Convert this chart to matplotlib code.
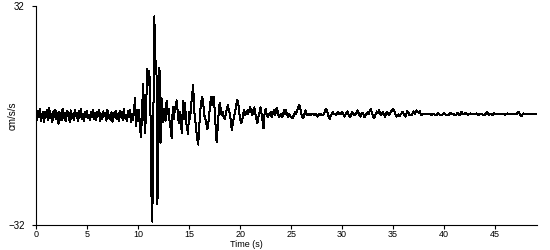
import matplotlib
matplotlib.use("Agg")
import matplotlib.pyplot as plt
import numpy as np

# acceleration samples (cm/s/s), one every 0.1 s
dt = 0.1

pre_event = [
    0.5, -1.2, 1.4, -0.6, 1.8, -1.5, 0.3, 1.1, -1.8, 0.9,
    -0.4, 1.6, -1.3, 2.1, -0.8, 0.4, -2.0, 1.2, -0.5, 1.7,
    -1.1, 0.6, -2.4, 1.0, 0.2, -1.4, 1.9, -0.7, 0.8, -1.6,
    1.3, -0.3, 0.9, -1.9, 1.5, -0.9, 0.4, -1.2, 1.6, -0.2,
    0.7, -1.5, 1.2, -0.6, 1.8, -1.1, 0.5, -1.7, 1.0, -0.4,
    1.4, -0.8, 0.3, -1.3, 1.1, -0.5, 1.7, -1.0, 0.6, -1.4,
    0.9, -0.2, 1.5, -1.6, 0.4, -0.9, 1.2, -0.3, 0.8, -1.5,
    1.6, -0.7, 0.2, -1.2, 1.0, -1.8, 0.7, -0.4, 1.3, -1.0,
    0.5, -1.6, 1.4, -0.5, 1.1, -1.3, 1.9, -0.8, 0.3, -1.7,
    1.2, -0.6, 1.5, -1.9, 0.4, -1.2, 1.0, 5.0, -3.2, 1.5,
]

strong_motion = [
    -1.5, 1.5, -4.0, -6.4, 2.0, 9.3, 0.5, -5.0, 3.0, 13.5,
    9.0, 13.0, 6.0, -22.0, -31.0, 0.0, 29.0, 12.0, 16.0, -26.0,
    -4.0, 14.0, -8.0, 5.0, -2.0, 2.0, 0.5, -1.5, 4.4, 0.5,
    2.0, -2.0, -4.0, -6.7, 2.5, -1.0, 1.5, 3.0, 4.4, 0.5,
    -2.3, 1.0, -3.0, -5.0, 4.4, -1.0, 3.8, -1.5, -3.5, -5.5,
    1.0, -1.0, 3.0, 6.0, 9.0, 1.5, -1.0, -4.0, -7.0, -8.5,
    -3.0, 1.5, 4.0, 5.4, 3.0, 0.0, -1.0, -2.5, -3.9, -2.0,
    1.0, 4.0, 5.4, 3.0, 5.4, 2.0, -3.0, -7.8, -4.0, 0.5,
    3.8, 2.0, 0.0, 1.0, -0.5, -1.0, 0.5, 2.0, 3.0, 1.5,
    0.5, -2.0, -4.4, -2.0, -0.5, 1.0, 2.5, 4.4, 4.0, 1.5,
    -1.0, -2.3, -1.5, 0.5, 1.5, 0.0, 1.0, 1.5, 0.5, 1.5,
    2.5, 1.0, 0.0, 1.5, 2.4, 0.5, -1.0, -2.3, -0.5, 1.0,
    2.4, 0.5, -1.5, -3.8, 0.5, 2.0, 0.5, -0.5, 0.5, 0.0,
]

coda = [
    1.0, -0.5, 0.5, 1.5, 0.0, 1.0, 2.3, 1.0, -0.5, 0.0,
    0.5, -0.5, 0.0, 1.5, 0.5, 1.5, 0.5, -0.5, 0.5, 0.0,
    -0.5, -0.8, -0.5, 0.5, 1.0, 0.5, 1.5, 2.5, 3.0, 2.0,
    0.5, -0.5, -0.8, 0.5, 1.5, 0.5, 0.0, 0.5, 0.3, 0.0,
    0.5, 0.3, 0.5, 0.0, 0.5, 0.3, -0.3, 0.3, 0.0, 0.5,
    0.3, 0.0, 0.5, 1.0, 2.0, 1.5, 0.5, -0.5, -1.0, 0.0,
    0.5, 1.0, 0.3, 0.5, 0.0, 0.5, 1.0, 0.5, 0.3, 0.5,
    1.0, 0.5, -0.3, 0.0, 0.8, 1.2, 0.5, 0.0, -0.5, 0.3,
    1.0, 0.5, 0.0, 0.3, 0.8, 1.5, 0.8, 0.0, -0.3, 0.5,
    0.8, 0.2, -0.5, 0.0, 0.5, 1.0, 0.5, 1.2, 2.0, 1.0,
    0.0, -0.8, -0.3, 0.5, 1.2, 0.8, 1.5, 0.8, 0.0, 0.5,
    1.0, 0.3, -0.3, 0.5, 1.0, 0.5, 0.0, 0.8, 1.2, 1.5,
    2.0, 1.5, 0.5, -0.3, 0.0, 0.3, -0.2, 0.2, 0.5, 1.0,
    0.8, 0.0, -0.3, 0.5, 1.3, 0.8, 0.2, 0.3, 0.0, 0.5,
    1.2, 0.5, 1.0, 1.5, 1.0, 0.8, 1.3, 0.3, 0.0, 0.3,
    0.5, 0.3, 0.4, 0.3, 0.4, 0.3, 0.4, 0.3, 0.2, 0.3,
    0.4, 0.2, 0.0, 0.3, 0.7, 0.4, 0.1, 0.3, 0.2, 0.5,
    0.8, 0.4, 0.0, 0.2, 0.1, 0.3, 0.8, 0.5, 0.3, 0.4,
    0.2, 0.0, 0.3, 0.8, 0.5, 0.2, 0.4, 1.0, 0.6, 0.3,
    0.5, 0.8, 0.5, 0.2, 0.4, 0.3, 0.6, 0.5, 0.3, 0.4,
    0.5, 0.4, 0.6, 0.3, 0.2, 0.4, 0.3, 0.5, 0.2, 0.0,
    0.3, 0.6, 1.0, 0.6, 0.2, 0.4, 0.3, 0.2, 0.3, 0.6,
    0.4, 0.3, 0.5, 0.4, 0.3, 0.4, 0.5, 0.3, 0.4, 0.3,
    0.2, 0.4, 0.6, 0.3, 0.4, 0.5, 0.3, 0.4, 0.6, 0.4,
    0.3, 0.5, 0.8, 1.0, 0.5, 0.0, -0.2, 0.3, 0.6, 0.5,
    0.5, 0.5, 0.5, 0.5, 0.5, 0.5, 0.5, 0.5, 0.5, 0.5,
    0.5,
]

x_ticks = [0, 5, 10, 15, 20, 25, 30, 35, 40, 45]
y_ticks = [-32, 32]

plt.rcParams['font.family'] = ['Liberation Sans', 'DejaVu Sans']

accel = np.array(pre_event + strong_motion + coda)
time = np.arange(len(accel)) * dt

fig = plt.figure(figsize=(5.5, 2.5), dpi=100)
ax = fig.add_axes([36 / 550, 25 / 250, 501 / 550, 219 / 250])

ax.plot(time, accel, color="black", linewidth=0.72, antialiased=False)

ax.set_xlim(0, time[-1] + 0.1)
ax.set_ylim(-32, 32)
ax.set_xticks(x_ticks)
ax.set_yticks(y_ticks)
ax.tick_params(labelsize=7, length=3, width=0.8)
ax.tick_params(axis='x', pad=0.5, labelsize=6.5)
ax.tick_params(axis='y', pad=5)

for side in ("top", "right"):
    ax.spines[side].set_visible(False)
for side in ("left", "bottom"):
    ax.spines[side].set_linewidth(0.8)

ax.set_xlabel("Time (s)", fontsize=6.5)
ax.xaxis.set_label_coords(0.419, -0.0685)
ax.set_ylabel("cm/s/s", fontsize=7)
ax.yaxis.set_label_coords(-0.037, 0.5)

fig.savefig("out.png", dpi=100)
plt.close(fig)
